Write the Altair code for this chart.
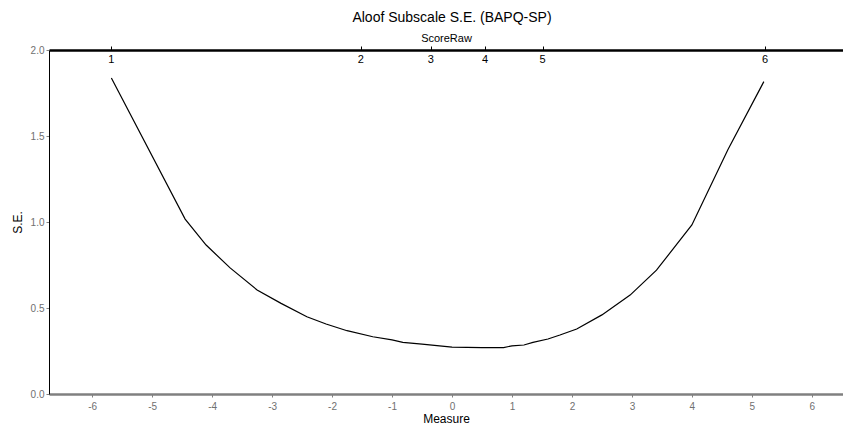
import altair as alt
import pandas as pd

# Standard error curve (Measure vs S.E.)
measure = [-5.68, -4.45, -4.10, -3.70, -3.25, -2.85, -2.42, -2.10, -1.75, -1.32,
           -1.00, -0.82, -0.50, -0.25, 0.00, 0.50, 0.86, 1.00, 1.20, 1.35,
           1.60, 1.80, 2.08, 2.50, 2.97, 3.41, 4.00, 4.60, 5.20]
se = [1.837, 1.017, 0.866, 0.733, 0.605, 0.527, 0.449, 0.407, 0.368, 0.333,
      0.315, 0.300, 0.290, 0.281, 0.272, 0.270, 0.270, 0.280, 0.285, 0.300,
      0.320, 0.343, 0.378, 0.460, 0.575, 0.720, 0.983, 1.420, 1.816]

# Raw score positions on the top axis
score_pos = [-5.68, -1.52, -0.355, 0.55, 1.51, 5.22]
score_lab = ["1", "2", "3", "4", "5", "6"]

x_ticks = [-6, -5, -4, -3, -2, -1, 0, 1, 2, 3, 4, 5, 6]
y_ticks = [0.0, 0.5, 1.0, 1.5, 2.0]

line_df = pd.DataFrame({"Measure": measure, "SE": se})
score_df = pd.DataFrame({"pos": score_pos, "label": score_lab,
                         "top": [2.0] * len(score_pos)})

FONT = "Liberation Sans"
x_dom = [-6.72, 6.52]
xscale = alt.Scale(domain=x_dom, nice=False, zero=False)
yscale = alt.Scale(domain=[0, 2], nice=False, zero=True)

y_axis = alt.Axis(values=y_ticks, format=".1f", title="S.E.",
                  domainColor="black", domainWidth=1,
                  tickColor="#808080", tickSize=3,
                  labelColor="#707070", labelFontSize=10, labelPadding=2,
                  labelFont=FONT, titleFont=FONT, titleFontSize=12,
                  titleFontWeight="normal", titleColor="black",
                  titlePadding=6, grid=False)

line = alt.Chart(line_df).mark_line(color="black", strokeWidth=1.2).encode(
    x=alt.X("Measure:Q", scale=xscale,
            axis=alt.Axis(orient="bottom", values=x_ticks, title="Measure",
                          labelExpr="'' + datum.value",
                          domainColor="#808080", domainWidth=2.5,
                          tickColor="#808080", tickSize=3, tickWidth=1,
                          labelColor="#707070", labelFontSize=10, labelPadding=4,
                          labelFont=FONT, titleFont=FONT, titleFontSize=12,
                          titleFontWeight="normal", titleColor="black",
                          titlePadding=2, grid=False)),
    y=alt.Y("SE:Q", scale=yscale, axis=y_axis),
)

top = alt.Chart(score_df).mark_text(
    baseline="middle", fontSize=11, color="black", dy=10, font=FONT
).encode(
    x=alt.X("pos:Q", scale=xscale,
            axis=alt.Axis(orient="top", values=score_pos, labels=False,
                          title="ScoreRaw", domainColor="black", domainWidth=2.5,
                          tickColor="black", tickSize=4, tickWidth=1,
                          titleFont=FONT, titleFontSize=11,
                          titleFontWeight="normal", titleColor="black",
                          titlePadding=2, grid=False)),
    y=alt.Y("top:Q", scale=yscale, axis=y_axis),
    text="label:N",
)

chart = alt.layer(line, top).resolve_scale(x="independent").properties(
    width=794,
    height=344,
    autosize=alt.AutoSizeParams(type="none"),
    padding={"left": 41, "top": 42, "right": 0, "bottom": 34},
    title=alt.TitleParams("Aloof Subscale S.E. (BAPQ-SP)", fontSize=14,
                          fontWeight="normal", font=FONT, color="black",
                          anchor="middle", offset=8, dx=6),
).configure_view(stroke=None).configure(background="white")

chart.save("out.html", embed_options={"renderer": "svg", "actions": False})
